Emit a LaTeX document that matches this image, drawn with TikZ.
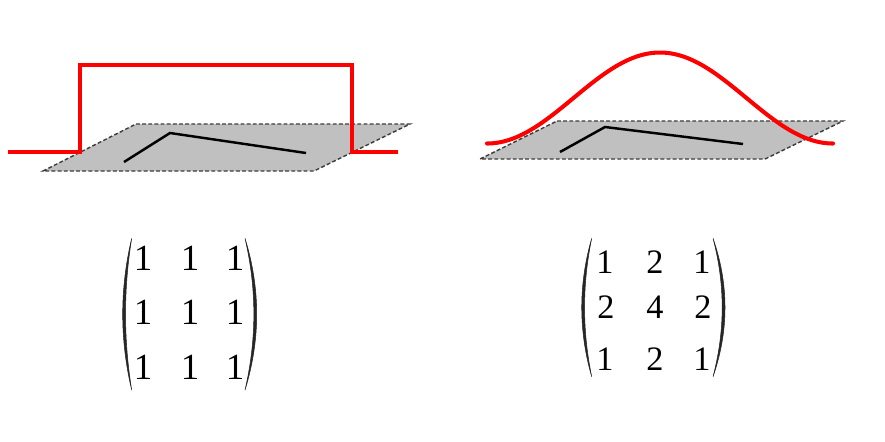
\documentclass[tikz,border=0pt]{standalone}
\usepackage{fontspec}
\setmainfont{Liberation Serif}
\definecolor{paneGray}{RGB}{192,192,192}
\definecolor{dashGray}{RGB}{60,60,60}
\definecolor{sigRed}{RGB}{255,0,0}
\tikzset{
  pane/.style={fill=paneGray, draw=dashGray, line width=0.8pt, dash pattern=on 2.2pt off 1.3pt},
  signal/.style={draw=sigRed, line width=2.3pt, line join=miter},
  edgeline/.style={draw=black, line width=1.4pt},
  bigentry/.style={inner sep=0pt, font=\fontsize{21}{24}\selectfont},
  smallentry/.style={inner sep=0pt, font=\fontsize{19.5}{22}\selectfont},
  parenfill/.style={fill=black!85, draw=black!85, line width=0.3pt}
}
\begin{document}
\begin{tikzpicture}[x=0.02cm, y=-0.02cm]
\useasboundingbox (0,0) rectangle (885,441);
% ---------- left panel ----------
\path[pane] (136,124) -- (410,124) -- (314,171) -- (43,171) -- cycle;
\draw[edgeline] (124,162) -- (170,133) -- (306,153);
\draw[signal] (8,152) -- (80,152) -- (80,65) -- (352,65) -- (352,152) -- (398,152);
% ---------- right panel ----------
\path[pane] (557,121) -- (843,121) -- (765,159) -- (480,159) -- cycle;
\draw[edgeline] (560,152) -- (605,127) -- (743,144);
\draw[signal, line cap=round] plot[domain=487:833, samples=120, smooth] (\x, {143.5-91*(0.5+0.5*cos((\x-660)*1.0405))});
% ---------- left matrix ----------
\node[bigentry] (a11) at (143,258) {1};
\node[bigentry] (a12) at (190,258) {1};
\node[bigentry] (a13) at (235,258) {1};
\node[bigentry] (a21) at (143,312.5) {1};
\node[bigentry] (a22) at (190,312.5) {1};
\node[bigentry] (a23) at (235,312.5) {1};
\node[bigentry] (a31) at (143,367.5) {1};
\node[bigentry] (a32) at (190,367.5) {1};
\node[bigentry] (a33) at (235,367.5) {1};
\path[parenfill] (131.7,238.3) .. controls (119.7,288.9) and (119.7,339.4) .. (131.7,390)
  .. controls (123.5,339.4) and (123.5,288.9) .. (131.7,238.3) -- cycle;
\path[parenfill] (245,238.3) .. controls (260.6,288.9) and (260.6,339.4) .. (245,390)
  .. controls (256.8,339.4) and (256.8,288.9) .. (245,238.3) -- cycle;
% ---------- right matrix ----------
\node[smallentry] (b11) at (605,262.5) {1};
\node[smallentry] (b12) at (655,262.5) {2};
\node[smallentry] (b13) at (702,262.5) {1};
\node[smallentry] (b21) at (606,307.5) {2};
\node[smallentry] (b22) at (655,307.5) {4};
\node[smallentry] (b23) at (703,307.5) {2};
\node[smallentry] (b31) at (605,359) {1};
\node[smallentry] (b32) at (655,359) {2};
\node[smallentry] (b33) at (702,359) {1};
\path[parenfill] (591.7,238.3) .. controls (578.4,284.4) and (578.4,330.6) .. (591.7,376.7)
  .. controls (582.2,330.6) and (582.2,284.4) .. (591.7,238.3) -- cycle;
\path[parenfill] (713,238.3) .. controls (729,284.4) and (729,330.6) .. (713,376.7)
  .. controls (725.2,330.6) and (725.2,284.4) .. (713,238.3) -- cycle;
\end{tikzpicture}
\end{document}
